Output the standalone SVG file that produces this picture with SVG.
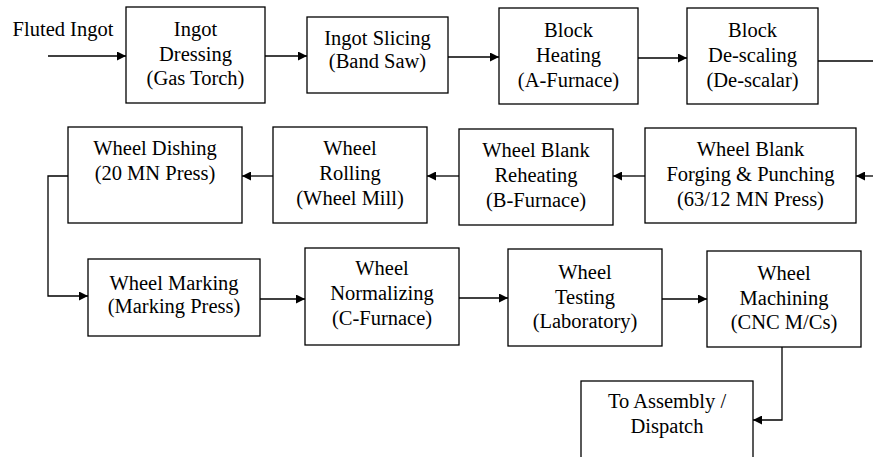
<svg xmlns="http://www.w3.org/2000/svg" width="873" height="457" viewBox="0 0 873 457">
<defs>
  <marker id="ah" viewBox="0 0 10 10" refX="10" refY="5" markerWidth="10" markerHeight="9" markerUnits="userSpaceOnUse" orient="auto">
    <path d="M0,0 L10,5 L0,10 Z" fill="#000"/>
  </marker>
</defs>
<rect width="873" height="457" fill="#fff"/>
<text x="63" y="36" font-family="Liberation Serif" font-size="20.5" text-anchor="middle">Fluted Ingot</text>

<g id="connectors" fill="none" stroke="#000" stroke-width="1.3">
  <path d="M48,56 H126" marker-end="url(#ah)"/>
  <path d="M265,56 H307" marker-end="url(#ah)"/>
  <path d="M448,57 H499" marker-end="url(#ah)"/>
  <path d="M638,58 H687" marker-end="url(#ah)"/>
  <path d="M818,61 H873"/>
  <path d="M873,176 H856" marker-end="url(#ah)"/>
  <path d="M645,176 H613" marker-end="url(#ah)"/>
  <path d="M459,176 H427" marker-end="url(#ah)"/>
  <path d="M273,176 H242" marker-end="url(#ah)"/>
  <path d="M68,176 H48 V296 H88" marker-end="url(#ah)"/>
  <path d="M260,299 H305" marker-end="url(#ah)"/>
  <path d="M459,298 H508" marker-end="url(#ah)"/>
  <path d="M662,299 H707" marker-end="url(#ah)"/>
  <path d="M782,347 V420 H753" marker-end="url(#ah)"/>
</g>

<g id="ingot-dressing">
  <rect x="126" y="7" width="139" height="96" fill="#fff" stroke="#000" stroke-width="1.3"/>
  <text x="195.5" y="36" font-family="Liberation Serif" font-size="20.5" text-anchor="middle">Ingot</text>
  <text x="195.5" y="61" font-family="Liberation Serif" font-size="20.5" text-anchor="middle">Dressing</text>
  <text x="195.5" y="85" font-family="Liberation Serif" font-size="20.5" text-anchor="middle">(Gas Torch)</text>
</g>
<g id="ingot-slicing">
  <rect x="307" y="17" width="141" height="76" fill="#fff" stroke="#000" stroke-width="1.3"/>
  <text x="377.5" y="45" font-family="Liberation Serif" font-size="20.5" text-anchor="middle">Ingot Slicing</text>
  <text x="377.5" y="68" font-family="Liberation Serif" font-size="20.5" text-anchor="middle">(Band Saw)</text>
</g>
<g id="block-heating">
  <rect x="499" y="8" width="139" height="96" fill="#fff" stroke="#000" stroke-width="1.3"/>
  <text x="568.5" y="37" font-family="Liberation Serif" font-size="20.5" text-anchor="middle">Block</text>
  <text x="568.5" y="62" font-family="Liberation Serif" font-size="20.5" text-anchor="middle">Heating</text>
  <text x="568.5" y="87" font-family="Liberation Serif" font-size="20.5" text-anchor="middle">(A-Furnace)</text>
</g>
<g id="block-descaling">
  <rect x="687" y="8" width="131" height="96" fill="#fff" stroke="#000" stroke-width="1.3"/>
  <text x="752.5" y="37" font-family="Liberation Serif" font-size="20.5" text-anchor="middle">Block</text>
  <text x="752.5" y="62" font-family="Liberation Serif" font-size="20.5" text-anchor="middle">De-scaling</text>
  <text x="752.5" y="87" font-family="Liberation Serif" font-size="20.5" text-anchor="middle">(De-scalar)</text>
</g>

<g id="wheel-dishing">
  <rect x="68" y="127" width="174" height="96" fill="#fff" stroke="#000" stroke-width="1.3"/>
  <text x="155" y="155" font-family="Liberation Serif" font-size="20.5" text-anchor="middle">Wheel Dishing</text>
  <text x="155" y="180" font-family="Liberation Serif" font-size="20.5" text-anchor="middle">(20 MN Press)</text>
</g>
<g id="wheel-rolling">
  <rect x="273" y="127" width="154" height="96" fill="#fff" stroke="#000" stroke-width="1.3"/>
  <text x="350" y="155" font-family="Liberation Serif" font-size="20.5" text-anchor="middle">Wheel</text>
  <text x="350" y="180" font-family="Liberation Serif" font-size="20.5" text-anchor="middle">Rolling</text>
  <text x="350" y="205" font-family="Liberation Serif" font-size="20.5" text-anchor="middle">(Wheel Mill)</text>
</g>
<g id="wheel-blank-reheating">
  <rect x="459" y="129" width="154" height="96" fill="#fff" stroke="#000" stroke-width="1.3"/>
  <text x="536" y="157" font-family="Liberation Serif" font-size="20.5" text-anchor="middle">Wheel Blank</text>
  <text x="536" y="182" font-family="Liberation Serif" font-size="20.5" text-anchor="middle">Reheating</text>
  <text x="536" y="207" font-family="Liberation Serif" font-size="20.5" text-anchor="middle">(B-Furnace)</text>
</g>
<g id="wheel-blank-forging">
  <rect x="645" y="128" width="211" height="95" fill="#fff" stroke="#000" stroke-width="1.3"/>
  <text x="750.5" y="156" font-family="Liberation Serif" font-size="20.5" text-anchor="middle">Wheel Blank</text>
  <text x="750.5" y="181" font-family="Liberation Serif" font-size="20.5" text-anchor="middle">Forging &amp; Punching</text>
  <text x="750.5" y="206" font-family="Liberation Serif" font-size="20.5" text-anchor="middle">(63/12 MN Press)</text>
</g>

<g id="wheel-marking">
  <rect x="88" y="259" width="172" height="77" fill="#fff" stroke="#000" stroke-width="1.3"/>
  <text x="174" y="290" font-family="Liberation Serif" font-size="20.5" text-anchor="middle">Wheel Marking</text>
  <text x="174" y="313" font-family="Liberation Serif" font-size="20.5" text-anchor="middle">(Marking Press)</text>
</g>
<g id="wheel-normalizing">
  <rect x="305" y="248" width="154" height="97" fill="#fff" stroke="#000" stroke-width="1.3"/>
  <text x="382" y="275" font-family="Liberation Serif" font-size="20.5" text-anchor="middle">Wheel</text>
  <text x="382" y="300" font-family="Liberation Serif" font-size="20.5" text-anchor="middle">Normalizing</text>
  <text x="382" y="325" font-family="Liberation Serif" font-size="20.5" text-anchor="middle">(C-Furnace)</text>
</g>
<g id="wheel-testing">
  <rect x="508" y="249" width="154" height="97" fill="#fff" stroke="#000" stroke-width="1.3"/>
  <text x="585" y="279" font-family="Liberation Serif" font-size="20.5" text-anchor="middle">Wheel</text>
  <text x="585" y="304" font-family="Liberation Serif" font-size="20.5" text-anchor="middle">Testing</text>
  <text x="585" y="328" font-family="Liberation Serif" font-size="20.5" text-anchor="middle">(Laboratory)</text>
</g>
<g id="wheel-machining">
  <rect x="707" y="251" width="154" height="96" fill="#fff" stroke="#000" stroke-width="1.3"/>
  <text x="784" y="280" font-family="Liberation Serif" font-size="20.5" text-anchor="middle">Wheel</text>
  <text x="784" y="305" font-family="Liberation Serif" font-size="20.5" text-anchor="middle">Machining</text>
  <text x="784" y="329" font-family="Liberation Serif" font-size="20.5" text-anchor="middle">(CNC M/Cs)</text>
</g>
<g id="to-assembly">
  <rect x="581" y="381" width="172" height="90" fill="#fff" stroke="#000" stroke-width="1.3"/>
  <text x="667" y="408" font-family="Liberation Serif" font-size="20.5" text-anchor="middle">To Assembly /</text>
  <text x="667" y="433" font-family="Liberation Serif" font-size="20.5" text-anchor="middle">Dispatch</text>
</g>
</svg>
